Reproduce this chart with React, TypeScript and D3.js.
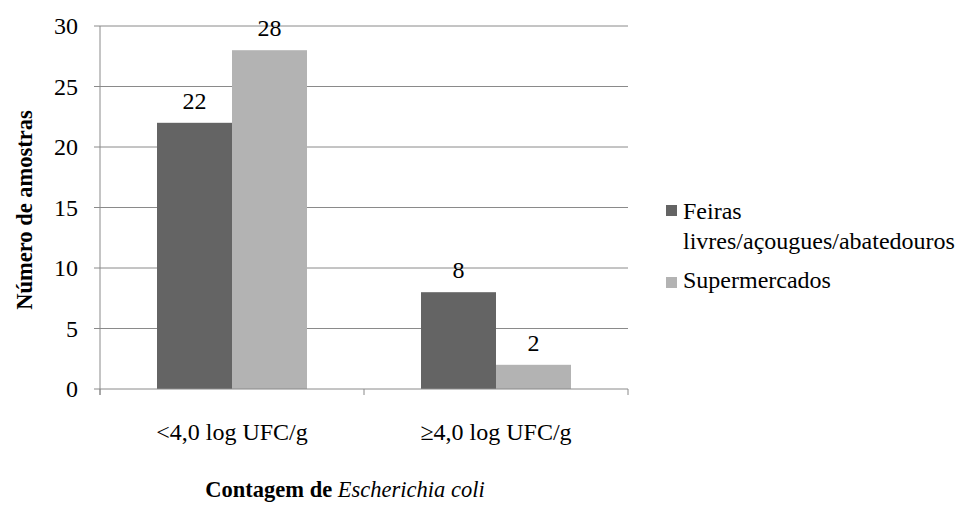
import React from "react";
import * as d3 from "d3";

const categories = ["<4,0 log UFC/g", "\u22654,0 log UFC/g"];
const seriesNames = ["Feiras livres/açougues/abatedouros", "Supermercados"];
const feiras = [22, 8];
const supermercados = [28, 2];
const yTicks = [0, 5, 10, 15, 20, 25, 30];
const colors = ["#646464", "#b3b3b3"];

export default function App() {
  const W = 960, H = 507;
  const left = 100, right = 628, top = 26, bottom = 389;
  const y = d3.scaleLinear().domain([0, 30]).range([bottom, top]);
  const x0 = d3.scaleBand().domain(categories).range([left, right]).paddingInner(0).paddingOuter(0);
  const barW = 75;
  const series = [feiras, supermercados];
  const font = "Liberation Serif";
  const grid = "#8a8a8a";
  const fs = 24;
  return (
    <svg width={W} height={H} style={{ position: "absolute", left: 0, top: 0 }} fontFamily={font}>
      <rect width={W} height={H} fill="#fff" />
      {yTicks.map((t) => (
        <g key={t}>
          {t > 0 && <line x1={left} x2={right} y1={y(t)} y2={y(t)} stroke={grid} strokeWidth={1} />}
          <line x1={left - 6} x2={left} y1={y(t)} y2={y(t)} stroke={grid} strokeWidth={1} />
          <text x={78} y={y(t) + 8} fontFamily={font} fontSize={fs} textAnchor="end" fill="#000">{t}</text>
        </g>
      ))}
      {categories.map((c, i) => {
        const cx = (x0(c) as number) + x0.bandwidth() / 2;
        return (
          <g key={c}>
            {series.map((s, j) => {
              const bx = cx - barW + j * barW;
              return (
                <g key={j}>
                  <rect x={bx} y={y(s[i])} width={barW} height={bottom - y(s[i])} fill={colors[j]} />
                  <text x={bx + barW / 2} y={y(s[i]) - 14} fontFamily={font} fontSize={fs} textAnchor="middle" fill="#000">{s[i]}</text>
                </g>
              );
            })}
            <text x={cx} y={440} fontFamily={font} fontSize={24} textAnchor="middle" fill="#000">{c}</text>
          </g>
        );
      })}
      <line x1={left} x2={left} y1={top} y2={bottom + 6} stroke={grid} strokeWidth={1} />
      <line x1={left} x2={right} y1={bottom} y2={bottom} stroke={grid} strokeWidth={1} />
      {[0, 1, 2].map((k) => {
        const xx = left + k * x0.bandwidth();
        return <line key={k} x1={xx} x2={xx} y1={bottom} y2={bottom + 6} stroke={grid} strokeWidth={1} />;
      })}
      <text transform={`translate(32,210) rotate(-90)`} fontFamily={font} fontSize={22.5} fontWeight="bold" textAnchor="middle" fill="#000">Número de amostras</text>
      <text x={345} y={497} fontFamily={font} fontSize={22.5} textAnchor="middle" fill="#000">
        <tspan fontWeight="bold">Contagem de </tspan>
        <tspan fontStyle="italic">Escherichia coli</tspan>
      </text>
      <rect x={666} y={205} width={11} height={11} fill={colors[0]} />
      <text x={683} y={219} fontFamily={font} fontSize={fs} fill="#000">Feiras</text>
      <text x={683} y={249} fontFamily={font} fontSize={fs} fill="#000">livres/açougues/abatedouros</text>
      <rect x={666} y={277} width={11} height={11} fill={colors[1]} />
      <text x={683} y={288} fontFamily={font} fontSize={fs} fill="#000">{seriesNames[1]}</text>
    </svg>
  );
}
